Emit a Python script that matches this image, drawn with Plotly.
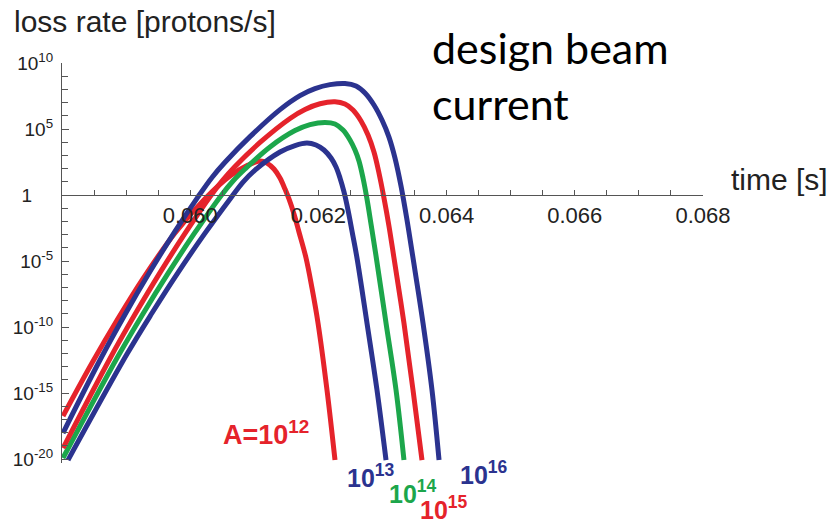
import plotly.graph_objects as go

# ---------------- data ----------------
# time [s] and log10(loss rate [protons/s]) for each amplitude A
t_A12 = [0.058016, 0.058468, 0.058874, 0.059264, 0.059763, 0.060231, 0.060621, 0.060902, 0.061089,
         0.061198, 0.061307, 0.061401, 0.061479, 0.061541, 0.061619, 0.061697, 0.061807, 0.061900,
         0.061994, 0.062134, 0.062259]
lg_A12 = [-16.74, -12.73, -9.36, -6.33, -2.88, -0.28, 1.44, 2.27, 2.58,
          2.42, 1.97, 1.29, 0.45, -0.30, -1.44, -2.80, -4.77, -7.05,
          -9.70, -14.77, -20.08]

t_A13 = [0.058094, 0.059014, 0.059404, 0.059794, 0.060215, 0.060637, 0.060824, 0.061011, 0.061401,
         0.061635, 0.061822, 0.061963, 0.062087, 0.062197, 0.062275, 0.062337, 0.062399, 0.062462,
         0.062524, 0.062602, 0.062758, 0.062914, 0.063055]
lg_A13 = [-20.08, -12.05, -8.94, -5.99, -3.00, -0.20, 0.98, 1.89, 3.26,
          3.75, 3.94, 3.79, 3.41, 2.80, 2.12, 1.29, 0.23, -1.14,
          -2.73, -4.77, -9.70, -14.77, -20.08]

t_A14 = [0.058016, 0.058874, 0.059264, 0.059654, 0.060059, 0.060481, 0.060668, 0.060855, 0.061245,
         0.061635, 0.061869, 0.062103, 0.062259, 0.062384, 0.062493, 0.062571, 0.062633, 0.062696,
         0.062758, 0.062821, 0.062899, 0.063055, 0.063211, 0.063335]
lg_A14 = [-19.92, -12.22, -8.99, -5.94, -2.95, -0.05, 1.06, 1.97, 3.64,
          4.88, 5.33, 5.50, 5.38, 4.92, 4.17, 3.41, 2.58, 1.29,
          -0.30, -2.20, -4.62, -9.70, -14.77, -20.08]

t_A15 = [0.058016, 0.058749, 0.059139, 0.059529, 0.059919, 0.060309, 0.060496, 0.060699, 0.061089,
         0.061557, 0.061791, 0.062025, 0.062259, 0.062415, 0.062540, 0.062665, 0.062774, 0.062867,
         0.062945, 0.063023, 0.063101, 0.063179, 0.063335, 0.063476, 0.063616]
lg_A15 = [-19.17, -12.38, -9.04, -5.88, -2.91, -0.13, 1.05, 2.16, 3.98,
          5.80, 6.48, 6.91, 7.06, 6.89, 6.44, 5.61, 4.55, 3.26,
          1.67, -0.23, -2.35, -4.77, -9.70, -14.77, -20.08]

t_A16 = [0.058016, 0.058593, 0.058983, 0.059373, 0.059763, 0.060122, 0.060340, 0.060543, 0.060933,
         0.061401, 0.061713, 0.061947, 0.062181, 0.062415, 0.062587, 0.062727, 0.062867, 0.062992,
         0.063101, 0.063195, 0.063289, 0.063382, 0.063476, 0.063632, 0.063772, 0.063882]
lg_A16 = [-18.03, -12.50, -9.05, -5.80, -2.75, -0.14, 1.33, 2.48, 4.42,
          6.47, 7.53, 8.06, 8.36, 8.45, 8.26, 7.73, 6.82, 5.68,
          4.39, 2.80, 0.68, -1.89, -4.77, -9.70, -14.77, -20.08]

series_labels = ["A=10<sup>12</sup>", "10<sup>13</sup>", "10<sup>14</sup>", "10<sup>15</sup>", "10<sup>16</sup>"]

x_tick_vals = [0.060, 0.062, 0.064, 0.066, 0.068]
x_tick_text = ["0.060", "0.062", "0.064", "0.066", "0.068"]
y_tick_exps = [10, 5, 0, -5, -10, -15, -20]
y_tick_text = ["10<sup>10</sup>", "10<sup>5</sup>", "1\u00a0\u00a0\u00a0\u00a0", "10<sup>-5</sup>",
               "10<sup>-10</sup>", "10<sup>-15</sup>", "10<sup>-20</sup>"]

# ---------------- style ----------------
RED = "#E5232B"
BLUE = "#2B338F"
GREEN = "#1CA64B"
AX = "#555555"

W, H = 831, 522
L, R, T, B = 62, 128, 63, 59
PW, PH = W - L - R, H - T - B
YR = [-20.3, 10.0]


def px(xp):
    return (xp - L) / PW


def py(yp):
    return (H - B - yp) / PH


fig = go.Figure()
curves = [(t_A12, lg_A12, RED), (t_A13, lg_A13, BLUE), (t_A14, lg_A14, GREEN),
          (t_A15, lg_A15, RED), (t_A16, lg_A16, BLUE)]
for t, lg, c in curves:
    fig.add_trace(go.Scatter(x=t, y=[10 ** v for v in lg], mode="lines",
                             line=dict(color=c, width=5, shape="spline", smoothing=1.0),
                             showlegend=False, hoverinfo="skip"))

fig.update_layout(
    width=W, height=H, margin=dict(l=L, r=R, t=T, b=B, autoexpand=False),
    paper_bgcolor="white", plot_bgcolor="white",
    font=dict(family="Liberation Sans, Arial, sans-serif", color="#222222"),
    showlegend=False,
)

fig.update_xaxes(
    range=[0.058, 0.068], anchor="free", position=(0 - YR[0]) / (YR[1] - YR[0]),
    automargin=False,
    showline=True, linecolor=AX, linewidth=1.2, showgrid=False, zeroline=False,
    tickmode="array", tickvals=x_tick_vals, ticktext=x_tick_text,
    ticks="inside", ticklen=5, tickcolor=AX, tickwidth=1,
    tickfont=dict(size=22, color="#222222"),
    minor=dict(tick0=0.058, dtick=0.0005, ticks="inside", ticklen=5, tickcolor=AX, tickwidth=1),
)
fig.update_yaxes(
    type="log", range=YR, automargin=False,
    showline=True, linecolor=AX, linewidth=1.2,
    showgrid=False, zeroline=False,
    tickmode="array", tickvals=[10 ** e for e in y_tick_exps], ticktext=y_tick_text,
    ticks="inside", ticklen=7, tickcolor=AX, tickwidth=1, ticklabelstandoff=4,
    tickfont=dict(size=19, color="#222222"),
    minor=dict(tickmode="array", tickvals=[10 ** e for e in range(-20, 11)],
               ticks="inside", ticklen=6, tickcolor=AX, tickwidth=1),
)

ann = [
    dict(text="loss rate [protons/s]", x=px(12), y=py(21), xanchor="left", yanchor="middle",
         font=dict(size=30, color="#222222")),
    dict(text="time [s]", x=px(729), y=py(179), xanchor="left", yanchor="middle",
         font=dict(size=30, color="#222222")),
    dict(text="design beam", x=px(430), y=py(48), xanchor="left", yanchor="middle",
         font=dict(size=43, family="Lato, Open Sans, sans-serif", color="black")),
    dict(text="current", x=px(430), y=py(103), xanchor="left", yanchor="middle",
         font=dict(size=43, family="Lato, Open Sans, sans-serif", color="black")),
    dict(text=series_labels[0], x=px(221), y=py(433), xanchor="left", yanchor="middle",
         font=dict(size=27, color=RED)),
    dict(text=series_labels[1], x=px(345), y=py(476), xanchor="left", yanchor="middle",
         font=dict(size=25, color=BLUE)),
    dict(text=series_labels[2], x=px(387), y=py(492), xanchor="left", yanchor="middle",
         font=dict(size=25, color=GREEN)),
    dict(text=series_labels[3], x=px(418), y=py(508), xanchor="left", yanchor="middle",
         font=dict(size=25, color=RED)),
    dict(text=series_labels[4], x=px(458), y=py(473), xanchor="left", yanchor="middle",
         font=dict(size=25, color=BLUE)),
]
for a in ann:
    a.update(xref="paper", yref="paper", showarrow=False)
    if a["font"]["color"] in (RED, BLUE, GREEN):
        a["text"] = "<b>" + a["text"] + "</b>"
    fig.add_annotation(**a)

fig.write_html("out.html", config={"displayModeBar": False},
               post_script="document.body.style.margin='0px';")
